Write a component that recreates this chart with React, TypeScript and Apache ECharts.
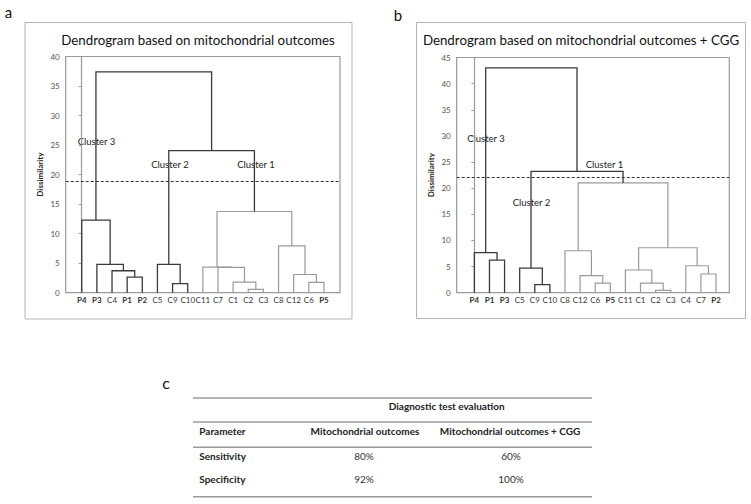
import React, { useEffect, useRef } from "react";
import * as echarts from "echarts";

// ---------- Data ----------
const leavesA = ["P4", "P3", "C4", "P1", "P2", "C5", "C9", "C10", "C11", "C7", "C1", "C2", "C3", "C8", "C12", "C6", "P5"];
// [id, left child, right child, merge height, tone (0 dark, 1 light)]
const nodesA: [string, string, string, number, number][] = [
  ["a1", "P1", "P2", 2.65, 0],
  ["a2", "C4", "a1", 3.72, 0],
  ["a3", "P3", "a2", 4.8, 0],
  ["a4", "P4", "a3", 12.3, 0],
  ["a5", "C9", "C10", 1.55, 0],
  ["a6", "C5", "a5", 4.8, 0],
  ["a7", "C2", "C3", 0.57, 1],
  ["a8", "C1", "a7", 1.8, 1],
  ["a9", "C7", "a8", 4.3, 1],
  ["a10", "C11", "a9", 4.33, 1],
  ["a11", "C6", "P5", 1.75, 1],
  ["a12", "C12", "a11", 3.08, 1],
  ["a13", "C8", "a12", 7.94, 1],
  ["a14", "a10", "a13", 13.75, 1],
  ["a15", "a6", "a14", 24.05, 0],
  ["a16", "a4", "a15", 37.4, 0],
];
const cutA = 18.9;

const leavesB = ["P4", "P1", "P3", "C5", "C9", "C10", "C8", "C12", "C6", "P5", "C11", "C1", "C2", "C3", "C4", "C7", "P2"];
const nodesB: [string, string, string, number, number][] = [
  ["b1", "P1", "P3", 6.25, 0],
  ["b2", "P4", "b1", 7.65, 0],
  ["b3", "C9", "C10", 1.55, 0],
  ["b4", "C5", "b3", 4.72, 0],
  ["b5", "C6", "P5", 1.85, 1],
  ["b6", "C12", "b5", 3.25, 1],
  ["b7", "C8", "b6", 8.03, 1],
  ["b8", "C2", "C3", 0.46, 1],
  ["b9", "C1", "b8", 1.85, 1],
  ["b10", "C11", "b9", 4.34, 1],
  ["b11", "C7", "P2", 3.58, 1],
  ["b12", "C4", "b11", 5.16, 1],
  ["b13", "b10", "b12", 8.6, 1],
  ["b14", "b7", "b13", 21.0, 1],
  ["b15", "b4", "b14", 23.2, 0],
  ["b16", "b2", "b15", 43.0, 0],
];
const cutB = 22.1;

const clusterNames = ["Cluster 1", "Cluster 2", "Cluster 3"];

const tableHeader = ["Parameter", "Mitochondrial outcomes", "Mitochondrial outcomes + CGG"];
const tableRows = ["Sensitivity", "Specificity"];
const valuesMito = ["80%", "92%"];
const valuesMitoCGG = ["60%", "100%"];

// ---------- Helpers ----------
const FONT = 'Lato, "Open Sans", sans-serif';

function buildSegments(leaves: string[], nodes: [string, string, string, number, number][]) {
  const pos: Record<string, [number, number]> = {};
  leaves.forEach((n, i) => (pos[n] = [i, 0]));
  const out: number[][] = [];
  nodes.forEach(([id, l, r, h, tone]) => {
    const [lx, lh] = pos[l];
    const [rx, rh] = pos[r];
    out.push([lx, rx, h, lh, rh, tone]);
    pos[id] = [(lx + rx) / 2, h];
  });
  return out;
}

function dendroSeries(idx: number, segs: number[][], cut: number) {
  return {
    type: "custom",
    xAxisIndex: idx,
    yAxisIndex: idx,
    silent: true,
    encode: { x: [0, 1], y: [2, 3, 4] },
    data: segs,
    renderItem: (params: any, api: any) => {
      const lx = api.value(0), rx = api.value(1), h = api.value(2), lh = api.value(3), rh = api.value(4), tone = api.value(5);
      const pts = [api.coord([lx, lh]), api.coord([lx, h]), api.coord([rx, h]), api.coord([rx, rh])];
      return {
        type: "polyline",
        shape: { points: pts },
        style: { stroke: tone ? "#9a9a9a" : "#3a3a3a", lineWidth: tone ? 1.2 : 1.3, fill: "none" },
      };
    },
    markLine: {
      silent: true,
      symbol: "none",
      label: { show: false },
      lineStyle: { type: [3, 2], color: "#333", width: 1.2 },
      data: [{ yAxis: cut }],
    },
  };
}

function leafSeries(idx: number, leaves: string[]) {
  return {
    type: "custom",
    xAxisIndex: idx,
    yAxisIndex: idx,
    silent: true,
    data: leaves.map((n, i) => ({ name: n, value: [i, 0] })),
    renderItem: (params: any, api: any) => {
      const p = api.coord([api.value(0), 0]);
      const name = leaves[params.dataIndex];
      return {
        type: "text",
        x: p[0],
        y: p[1] + 7,
        style: {
          text: name,
          align: "center",
          verticalAlign: "middle",
          fontSize: 8,
          fontFamily: FONT,
          fontWeight: name.startsWith("P") ? "bold" : "normal",
          fill: "#333",
        },
      };
    },
  };
}

function yAxisCfg(idx: number, max: number) {
  return {
    type: "value",
    gridIndex: idx,
    min: 0,
    max,
    interval: 5,
    name: "Dissimilarity",
    nameLocation: "middle",
    nameGap: 22,
    nameTextStyle: { fontSize: 8, fontWeight: "bold", fontFamily: FONT, color: "#222" },
    axisLine: { show: true, lineStyle: { color: "#9a9a9a", width: 1.2 } },
    axisTick: { show: true, length: 3, lineStyle: { color: "#9a9a9a" } },
    axisLabel: { fontSize: 8, color: "#555", fontFamily: FONT, margin: 6 },
    splitLine: { show: false },
  };
}

function txt(text: string, x: number, y: number, size: number, opts: any = {}) {
  return {
    type: "text",
    x,
    y,
    silent: true,
    style: {
      text,
      fontSize: size,
      fontFamily: FONT,
      fill: opts.fill || "#222",
      fontWeight: opts.bold ? "bold" : "normal",
      align: opts.align || "center",
      verticalAlign: "middle",
    },
  };
}

function hline(x1: number, x2: number, y: number, color = "#9a9a9a", w = 1.5) {
  return { type: "line", silent: true, shape: { x1, y1: y, x2, y2: y }, style: { stroke: color, lineWidth: w } };
}

export default function App() {
  const ref = useRef<HTMLDivElement>(null);
  useEffect(() => {
    if (!ref.current) return;
    const chart = echarts.init(ref.current, undefined, { renderer: "svg" });
    const segA = buildSegments(leavesA, nodesA);
    const segB = buildSegments(leavesB, nodesB);

    const graphics: any[] = [
      // outer panel boxes
      { type: "rect", silent: true, shape: { x: 25, y: 22.5, width: 327, height: 296.5 }, style: { fill: "none", stroke: "#b5b5b5", lineWidth: 1 } },
      { type: "rect", silent: true, shape: { x: 416.5, y: 22.5, width: 329, height: 296 }, style: { fill: "none", stroke: "#b5b5b5", lineWidth: 1 } },
      // panel letters
      txt("a", 8.5, 12, 15, { fill: "#111" }),
      txt("b", 398, 15, 15, { fill: "#111" }),
      txt("c", 166, 382, 16, { fill: "#111" }),
      // titles
      txt("Dendrogram based on mitochondrial outcomes", 198, 40, 13.3, { fill: "#111" }),
      txt("Dendrogram based on mitochondrial outcomes + CGG", 581, 40, 13.3, { fill: "#111" }),
      // cluster labels panel a
      txt(clusterNames[2], 96.5, 141.7, 9.5, { fill: "#222" }),
      txt(clusterNames[1], 170, 164.7, 9.5, { fill: "#222" }),
      txt(clusterNames[0], 256, 164.7, 9.5, { fill: "#222" }),
      // cluster labels panel b
      txt(clusterNames[2], 486, 138.7, 9.5, { fill: "#222" }),
      txt(clusterNames[0], 604.5, 164, 9.5, { fill: "#222" }),
      txt(clusterNames[1], 531.5, 202.7, 9.5, { fill: "#222" }),
      // table rules
      hline(193, 592, 398),
      hline(193, 592, 422),
      hline(193, 592, 447.3),
      hline(193, 592, 496.7),
      txt("Diagnostic test evaluation", 446.7, 406, 10, { bold: true }),
      txt(tableHeader[0], 199.3, 430.5, 10, { bold: true, align: "left" }),
      txt(tableHeader[1], 365, 430.5, 10, { bold: true }),
      txt(tableHeader[2], 510, 430.5, 10, { bold: true }),
    ];
    tableRows.forEach((r, i) => {
      const y = i === 0 ? 456 : 479.3;
      graphics.push(txt(r, 199.3, y, 10, { bold: true, align: "left" }));
      graphics.push(txt(valuesMito[i], 364, y, 10, { fill: "#333" }));
      graphics.push(txt(valuesMitoCGG[i], 511, y, 10, { fill: "#333" }));
    });

    chart.setOption({
      animation: false,
      backgroundColor: "#fff",
      grid: [
        { left: 65.7, top: 56.5, width: 274.3, height: 236.2, show: true, borderColor: "#9a9a9a", borderWidth: 1.2, backgroundColor: "transparent" },
        { left: 456.7, top: 57.5, width: 272.6, height: 235.2, show: true, borderColor: "#9a9a9a", borderWidth: 1.2, backgroundColor: "transparent" },
      ],
      xAxis: [
        { type: "value", gridIndex: 0, min: -1.06, max: 17.06, show: false },
        { type: "value", gridIndex: 1, min: -1.17, max: 16.88, show: false },
      ],
      yAxis: [yAxisCfg(0, 40), yAxisCfg(1, 45)],
      series: [dendroSeries(0, segA, cutA), leafSeries(0, leavesA), dendroSeries(1, segB, cutB), leafSeries(1, leavesB)],
      graphic: graphics,
    });
    return () => chart.dispose();
  }, []);
  return <div ref={ref} style={{ position: "absolute", left: 0, top: 0, width: 751, height: 504, background: "#fff" }} />;
}
